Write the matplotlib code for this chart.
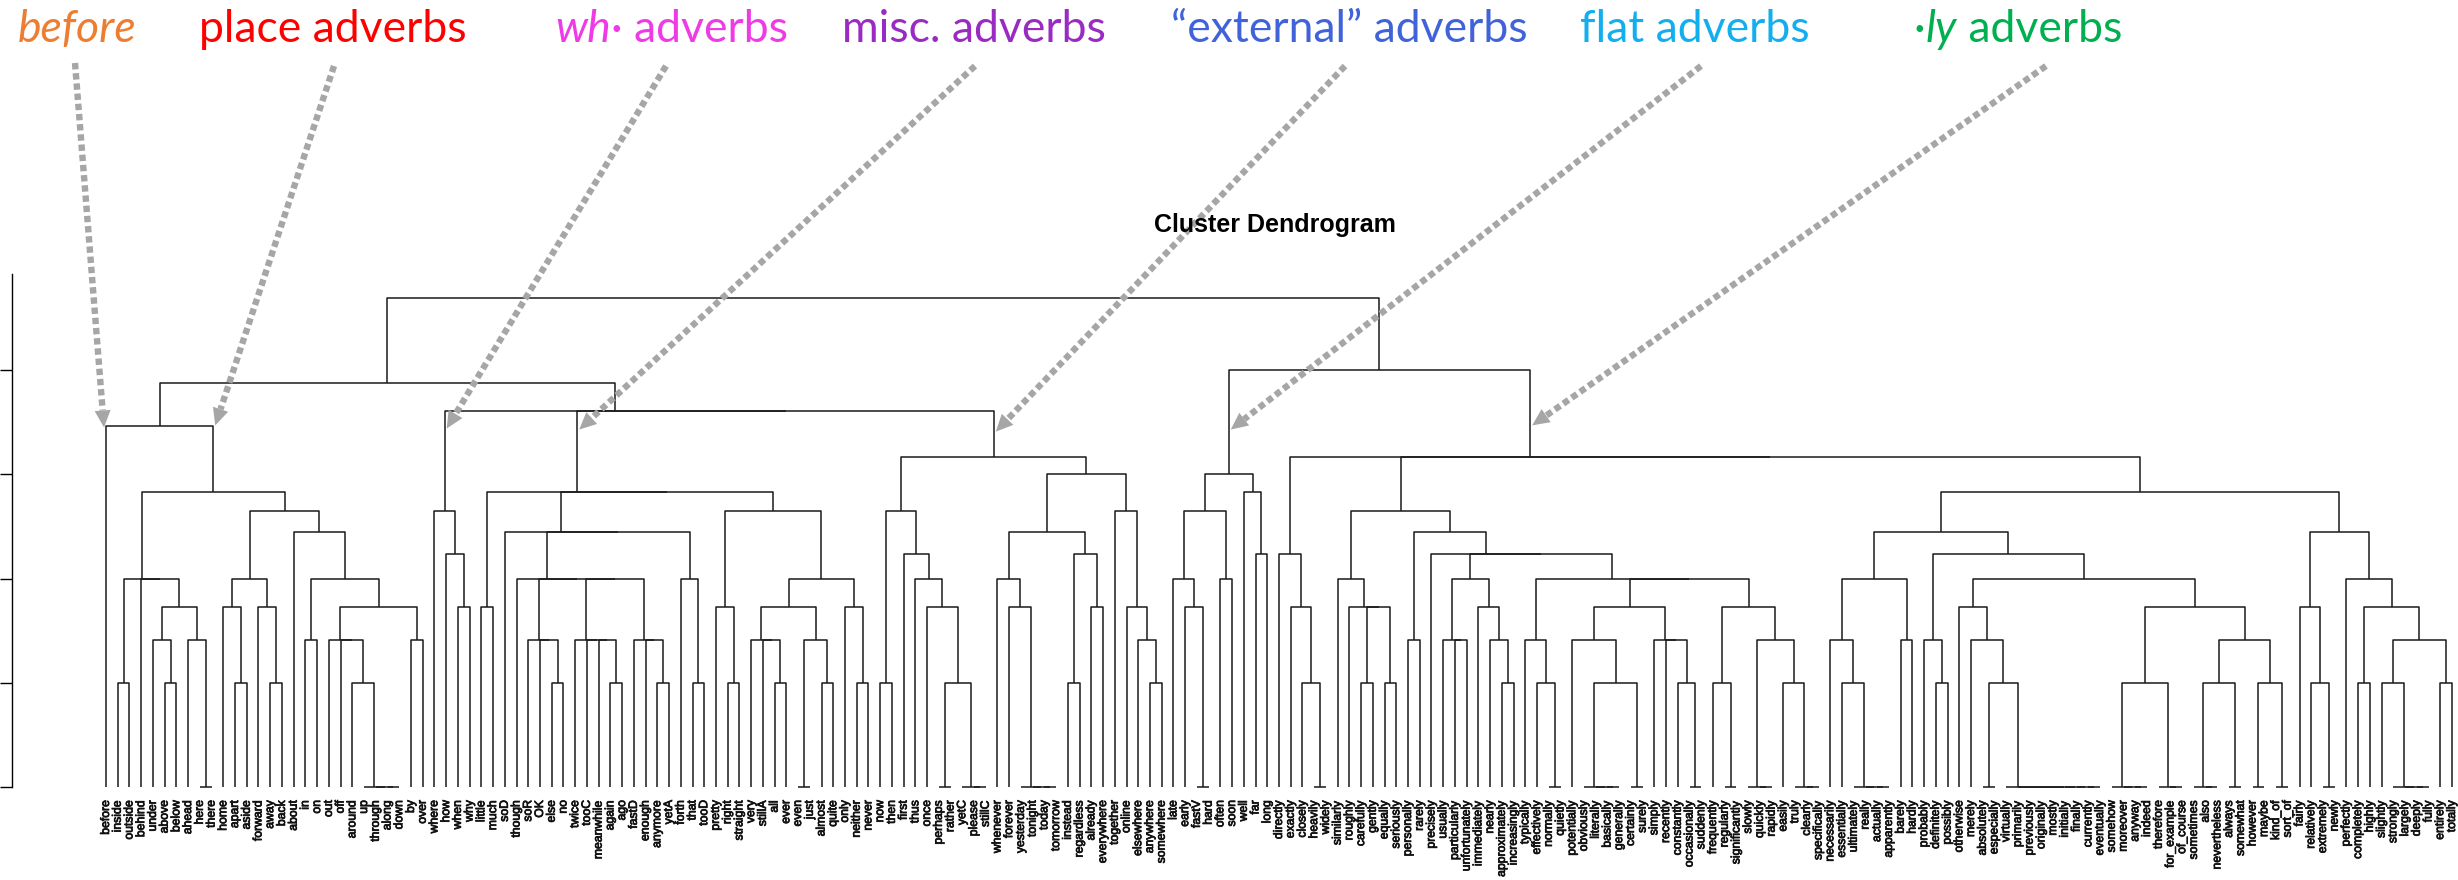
import numpy as np
import matplotlib
matplotlib.use("Agg")
import matplotlib.pyplot as plt
import matplotlib.patheffects as pe
from matplotlib.collections import LineCollection
from matplotlib.patches import Polygon

# Clusters written as nested merges: "(a,b)k" joins a and b at height sqrt(k)
place_adv = ("(((inside,outside)1,(behind,((under,(above,below)1)2,(ahead,(here,there)0)2)3)4)4,"
             "(((home,(apart,aside)1)3,(forward,(away,back)1)3)4,"
             "(about,((in,on)2,((out,(off,(around,(up,(through,(along,down)0)0)0)1)2)2,(by,over)2)3)4)6)7)8")
before_adv = "(before," + place_adv + ")12"
wh_adv = "(where,(how,(when,why)3)5)7"

misc_a = "(soR,(OK,(else,no)1)2)2"
misc_b = "(twice,(tooC,(meanwhile,(again,ago)1)2)2)2"
misc_c = "(fastD,(enough,(anymore,yetA)1)2)2"
misc_d = "(forth,(that,tooD)1)4"
misc_e = "((very,(stillA,(all,ever)1)2)2,((even,just)0,(almost,quite)1)2)3"
misc_f = "(only,(neither,never)1)3"
misc_adv = ("((little,much)3,((soD,((though,(" + misc_a + ",(" + misc_b + "," + misc_c + ")4)4)4,"
            + misc_d + ")6)6,((pretty,(right,straight)1)3,(" + misc_e + "," + misc_f + ")4)7)8)8")

ext_a = "((now,then)1,(first,(thus,(once,((perhaps,rather)0,(yetC,(please,stillC)0)0)1)3)4)5)7"
ext_b = "(whenever,(forever,(yesterday,(tonight,(today,tomorrow)0)0)0)3)4"
ext_c = "((instead,regardless)1,(already,everywhere)3)5"
ext_d = "(together,(online,(elsewhere,(anywhere,somewhere)1)2)3)7"
ext_adv = "(" + ext_a + ",((" + ext_b + "," + ext_c + ")6," + ext_d + ")9)10"

flat_adv = "(((late,(early,(fastV,hard)0)3)4,(often,soon)4)7,(well,(far,long)5)8)9"

ly_a = "(directly,(exactly,(closely,(heavily,widely)0)1)3)5"
ly_b = "(similarly,(roughly,((carefully,gently)1,(equally,seriously)1)3)3)4"
ly_c = "((usually,(particularly,unfortunately)2)2,(immediately,(nearly,(approximately,increasingly)1)2)3)4"
ly_d = "(typically,(effectively,(normally,quietly)0)1)2"
ly_e = ("((potentially,((obviously,(literally,(basically,generally)0)0)0,(certainly,surely)0)1)2,"
        "(simply,(recently,(constantly,(occasionally,suddenly)0)1)2)2)3")
ly_f = ("((frequently,(regularly,significantly)0)1,((slowly,(quickly,rapidly)0)0,"
        "(easily,(truly,(clearly,specifically)0)0)1)2)3")
ly_g = "(necessarily,(essentially,(ultimately,(really,(actually,apparently)0)0)0)1)2"
ly_h = "(probably,(definitely,possibly)1)2"
ly_i = ("(otherwise,(merely,((absolutely,especially)0,(virtually,(primarily,(previously,(originally,"
        "(mostly,(initially,(finally,(currently,eventually)0)0)0)0)0)0)0)0)1)2)3")
ly_j = ("(((somehow,(moreover,(anyway,indeed)0)0)0,(therefore,(for_example,of_course)0)0)1,"
        "(((sometimes,(also,nevertheless)0)0,(always,somewhat)0)1,((however,maybe)0,(kind_of,sort_of)0)1)2)3")
ly_k = ("((fairly,(relatively,(extremely,newly)0)1)3,(perfectly,((completely,highly)1,"
        "((slightly,(strongly,(largely,(deeply,fully)0)0)0)1,(entirely,totally)1)2)3)4)6")
ly_q = "(" + ly_b + ",((personally,rarely)2,(precisely,(" + ly_c + ",(" + ly_d + ",(" + ly_e + "," + ly_f + ")4)4)5)5)6)7"
ly_r = "(((" + ly_g + ",(barely,hardly)2)4,(" + ly_h + ",(" + ly_i + "," + ly_j + ")4)5)6," + ly_k + ")8"
ly_adv = "(" + ly_a + ",(" + ly_q + "," + ly_r + ")10)10"

left_half = "(" + before_adv + ",(" + wh_adv + ",(" + misc_adv + "," + ext_adv + ")13)13)15"
right_half = "(" + flat_adv + "," + ly_adv + ")16"
full_tree = "(" + left_half + "," + right_half + ")22"

group_names = ["before", "place adverbs", "wh· adverbs", "misc. adverbs",
               "\u201cexternal\u201d adverbs", "flat adverbs", "·ly adverbs"]
group_colors = ["#ED7D31", "#FF0000", "#EE3BE6", "#9A2BC2", "#4163D9", "#12AEEE", "#00B050"]
group_span = [("before", "before"), ("inside", "over"), ("where", "why"), ("little", "never"),
              ("now", "somewhere"), ("late", "long"), ("directly", "totally")]
group_tip_h = [3.45, 3.47, 3.44, 3.43, 3.41, 3.43, 3.47]


def parse(s):
    pos = 0

    def node():
        nonlocal pos
        if s[pos] == "(":
            pos += 1
            a = node()
            assert s[pos] == ","
            pos += 1
            b = node()
            assert s[pos] == ")"
            pos += 1
            j = pos
            while pos < len(s) and s[pos].isdigit():
                pos += 1
            return (a, b, int(s[j:pos]))
        j = pos
        while s[pos] not in ",()":
            pos += 1
        return s[j:pos]

    t = node()
    assert pos == len(s)
    return t


leaves = []
segs = []
nodes = {}


def layout(t):
    if isinstance(t, str):
        leaves.append(t)
        i = len(leaves) - 1
        nodes[(t, t)] = (i, 0.0)
        return i, 0.0, t, t
    xl, hl, first, _ = layout(t[0])
    xr, hr, _, last = layout(t[1])
    h = np.sqrt(t[2])
    segs.append([(xl, hl), (xl, h), (xr, h), (xr, hr)])
    x = (xl + xr) / 2
    nodes[(first, last)] = (x, h)
    return x, h, first, last


layout(parse(full_tree))
n = len(leaves)

W, H = 2458, 880
x0, dx = 106.0, 11.73
y0, dy = 787.3, 104.3

fig = plt.figure(figsize=(W / 100, H / 100), dpi=100)
ax = fig.add_axes([x0 / W, (H - y0) / H, (n - 1) * dx / W, 5 * dy / H])
ax.set_xlim(0, n - 1)
ax.set_ylim(0, 5)
ax.patch.set_visible(False)
ax.add_collection(LineCollection(segs, colors="#1a1a1a", linewidths=1.1, clip_on=False))

for s in ["top", "right", "bottom"]:
    ax.spines[s].set_visible(False)
ax.spines["left"].set_position(("axes", (12 - x0) / ((n - 1) * dx)))
ax.spines["left"].set_bounds(0, 4.92)
ax.spines["left"].set_linewidth(1.0)
ax.set_yticks([0, 1, 2, 3, 4])
ax.tick_params(axis="y", length=8.6, width=1.0, labelleft=False)
ax.set_xticks([])

thick = [pe.withStroke(linewidth=0.55, foreground="#111111")]
for i, name in enumerate(leaves):
    ax.text(i, -12.7 / dy, name, rotation=90, ha="center", va="top", color="#111111",
            fontsize=8.8, family="Liberation Sans", clip_on=False, path_effects=thick)

# overlay in pixel units for title, group names and arrows
ov = fig.add_axes([0, 0, 1, 1], zorder=3)
ov.set_xlim(0, W)
ov.set_ylim(H, 0)
ov.axis("off")

ov.text(1275, 232, "Cluster Dendrogram", ha="center", va="baseline",
        fontsize=18, fontweight="bold", family="Liberation Sans")

renderer = fig.canvas.get_renderer()
label_font = "Lato"
label_size = 32
label_cx = [77, 333, 672, 974, 1349, 1695, 2018]
arrow_start = [(75, 63), (334, 66), (666, 66), (975, 66), (1345, 66), (1701, 66), (2046, 66)]
pieces = [[("before", "italic")], [("place adverbs", "normal")],
          [("wh", "italic"), ("· adverbs", "normal")], [("misc. adverbs", "normal")],
          [("\u201cexternal\u201d adverbs", "normal")], [("flat adverbs", "normal")],
          [("·", "normal"), ("ly", "italic"), (" adverbs", "normal")]]

for k in range(len(group_names)):
    texts = [ov.text(0, 42, s, fontsize=label_size, style=st, family=label_font,
                     color=group_colors[k], va="baseline", ha="left") for s, st in pieces[k]]
    widths = [t.get_window_extent(renderer).width for t in texts]
    x = label_cx[k] - sum(widths) / 2
    for t, w in zip(texts, widths):
        t.set_x(x)
        x += w

    gx, gh = nodes[group_span[k]]
    px, py = ax.transData.transform((gx, group_tip_h[k]))
    tip = np.array([px + (-2 if k == 0 else 2), H - py])
    start = np.array(arrow_start[k], dtype=float)
    d = tip - start
    d /= np.hypot(*d)
    nrm = np.array([-d[1], d[0]])
    base = tip - d * 17
    ov.plot([start[0], base[0]], [start[1], base[1]], color="#A6A6A6", lw=4.6,
            linestyle=(0, (1.0, 0.6)), dash_capstyle="butt", solid_capstyle="butt")
    ov.add_patch(Polygon([tip, base + nrm * 8, base - nrm * 8], closed=True,
                         facecolor="#A6A6A6", edgecolor="none"))

fig.savefig("out.png", dpi=100)
